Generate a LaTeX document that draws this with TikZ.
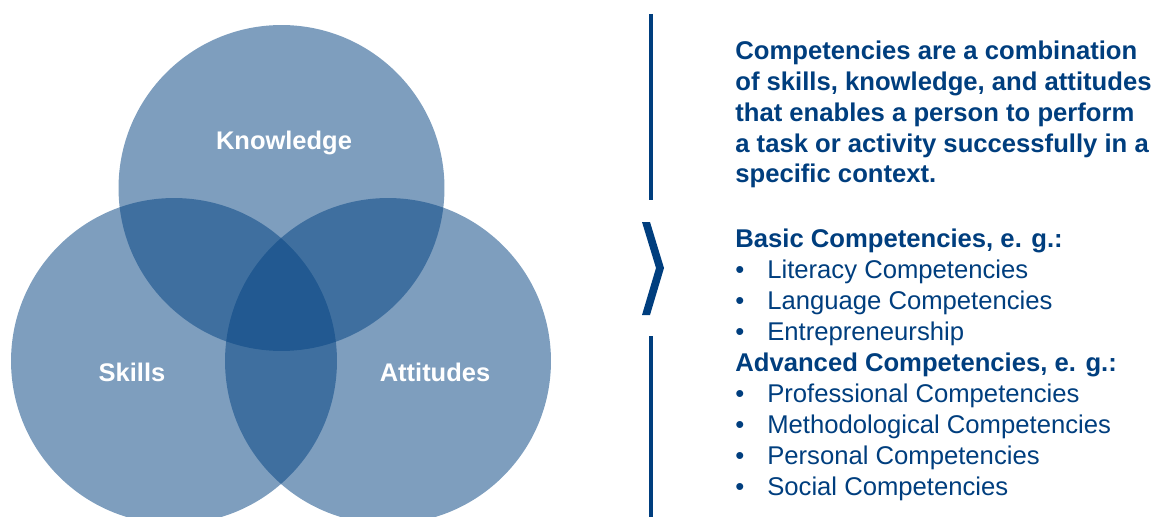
\documentclass[tikz,border=0pt]{standalone}
\usepackage{fontspec}
\setmainfont{Liberation Sans}
\usepackage{xcolor}

\definecolor{venn}{RGB}{7,69,131}
\definecolor{navy}{RGB}{0,62,126}
\newcommand{\itemdot}{\makebox[18.2pt][l]{\textbullet}}

\begin{document}
\begin{tikzpicture}[x=0.02cm, y=-0.02cm,
  set/.style={circle, minimum size=6.52cm, inner sep=0pt, fill=venn, fill opacity=0.52},
  setname/.style={anchor=base, text=white, font=\fontsize{14.5}{17.6}\selectfont\bfseries},
  txt/.style={anchor=base west, align=left, text=navy, inner sep=0pt, font=\fontsize{14.6}{17.6}\selectfont},
  deftxt/.style={txt, font=\fontsize{14.6}{17.6}\selectfont\bfseries}]
  \clip (0,0) rectangle (1157,517);
  % venn sets
  \node[set] (K) at (281.5,188) {};
  \node[set] (S) at (174,361) {};
  \node[set] (A) at (388,361) {};
  \node[setname] (k) at (284,150) {Knowledge};
  \node[setname] (s) at (132,381) {Skills};
  \node[setname] (a) at (435,381) {Attitudes};
  % divider with chevron
  \draw[navy, line width=2pt] (651,14) -- (651,200);
  \draw[navy, line width=2pt] (651,336) -- (651,517);
  \fill[navy] (642,222) -- (650,222) -- (664,268) -- (650,315) -- (642,315) -- (656,268) -- cycle;
  % text (base anchor = last line)
  \node[deftxt] (def) at (735,183) {Competencies are a combination\\
    of skills, knowledge, and attitudes\\
    that enables a person to perform\\
    a task or activity successfully in a\\
    specific context.};
  \node[txt] (list) at (735,495) {\textbf{Basic Competencies, e. g.:}\\
    \itemdot Literacy Competencies\\
    \itemdot Language Competencies\\
    \itemdot Entrepreneurship\\
    \textbf{Advanced Competencies, e. g.:}\\
    \itemdot Professional Competencies\\
    \itemdot Methodological Competencies\\
    \itemdot Personal Competencies\\
    \itemdot Social Competencies};
\end{tikzpicture}
\end{document}
